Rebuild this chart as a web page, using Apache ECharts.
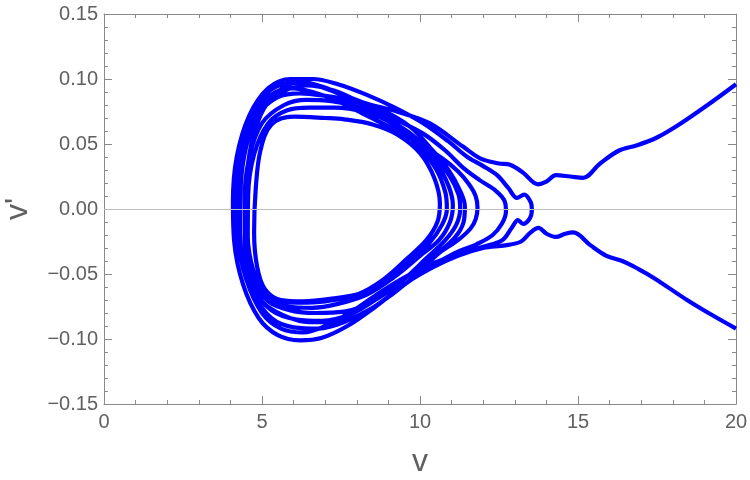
<!DOCTYPE html>
<html>
<head>
<meta charset="utf-8">
<script src="https://cdn.jsdelivr.net/npm/echarts@6/dist/echarts.min.js"></script>
<style>html,body{margin:0;padding:0;background:#fff}#c{width:750px;height:480px}</style>
</head>
<body>
<div id="c"></div>
<script>
// axis ticks
const xTicks = [0, 5, 10, 15, 20];
const yTicks = [-0.15, -0.10, -0.05, 0.00, 0.05, 0.10, 0.15];

// trajectory pieces (v, v')
const tailIn = [[20,-0.092],[19.2,-0.081],[18.45,-0.070],[17.4,-0.053],[16.9,-0.046],[16.4,-0.040],[15.9,-0.036],[15.4,-0.028],[14.85,-0.018],[14.6,-0.019],[14.3,-0.0215],[14.0,-0.019],[13.75,-0.0145],[13.5,-0.018],[13.2,-0.025],[12.7,-0.028],[12.0,-0.030],[11.2,-0.036],[10.4,-0.045],[9.5,-0.058],[8.6,-0.075],[7.7,-0.090],[6.9,-0.099],[6.2,-0.101],[5.5,-0.097],[4.9,-0.084],[4.4,-0.058],[4.12,-0.025],[4.08,0.005],[4.2,0.040],[4.6,0.072],[5.2,0.093],[5.9,0.100],[6.6,0.100],[7.4,0.096],[8.3,0.088],[9.2,0.078],[10.1,0.066],[10.9,0.052],[11.5,0.040],[12.0,0.033],[12.44,0.026],[12.8,0.016],[13.07,0.0085],[13.3,0.011],[13.5,0.0055],[13.54,0],[13.48,-0.007],[13.26,-0.0115],[13.1,-0.0085],[12.9,-0.0146],[12.6,-0.024],[12.0,-0.029],[11.3,-0.034]];
const loop2 = [[10.5,-0.041],[9.7,-0.050],[8.8,-0.063],[7.9,-0.078],[7.0,-0.090],[6.3,-0.095],[5.6,-0.092],[5.0,-0.080],[4.5,-0.054],[4.2,-0.020],[4.14,0.010],[4.3,0.045],[4.7,0.074],[5.3,0.092],[6.0,0.097],[6.7,0.095],[7.5,0.088],[8.4,0.078],[9.3,0.068],[10.1,0.058],[10.8,0.045],[11.4,0.031],[11.9,0.022],[12.4,0.014],[12.68,0.006],[12.72,-0.002],[12.6,-0.011],[12.3,-0.020],[11.8,-0.027]];
const loop3 = [[11.1,-0.034],[10.3,-0.045],[9.4,-0.060],[8.5,-0.076],[7.6,-0.087],[6.8,-0.092],[6.0,-0.091],[5.3,-0.084],[4.7,-0.064],[4.3,-0.034],[4.2,0.0],[4.32,0.038],[4.7,0.068],[5.2,0.086],[5.9,0.093],[6.6,0.090],[7.4,0.083],[8.3,0.072],[9.2,0.061],[10.0,0.050],[10.7,0.039],[11.2,0.029],[11.55,0.019],[11.76,0.010],[11.82,0.001],[11.76,-0.008],[11.6,-0.015],[11.2,-0.024]];
const loop4 = [[10.6,-0.034],[9.9,-0.050],[9.1,-0.066],[8.2,-0.080],[7.3,-0.087],[6.5,-0.087],[5.7,-0.082],[5.0,-0.071],[4.5,-0.049],[4.3,-0.018],[4.32,0.015],[4.5,0.048],[4.9,0.073],[5.5,0.086],[6.2,0.089],[7.0,0.087],[7.9,0.083],[8.8,0.076],[9.7,0.063],[10.4,0.045],[10.9,0.030],[11.25,0.015],[11.42,0.002],[11.38,-0.010],[11.1,-0.022]];
const loop5 = [[10.5,-0.035],[9.6,-0.052],[8.7,-0.068],[7.8,-0.081],[6.9,-0.086],[6.1,-0.085],[5.3,-0.078],[4.7,-0.060],[4.3,-0.030],[4.25,0.003],[4.4,0.040],[4.8,0.070],[5.5,0.088],[6.4,0.095],[7.3,0.091],[8.1,0.082],[8.9,0.070],[9.7,0.058],[10.4,0.042],[10.95,0.025],[11.22,0.011],[11.27,0.0],[11.15,-0.012],[10.8,-0.024]];
const loop6 = [[10.2,-0.038],[9.4,-0.056],[8.5,-0.071],[7.6,-0.079],[6.7,-0.080],[5.9,-0.078],[5.2,-0.071],[4.7,-0.054],[4.45,-0.025],[4.45,0.008],[4.6,0.040],[5.0,0.066],[5.7,0.080],[6.4,0.084],[7.2,0.083],[8.1,0.078],[9.0,0.068],[9.8,0.054],[10.5,0.036],[10.9,0.018],[11.04,0.003],[10.95,-0.010],[10.6,-0.024]];
const loop7 = [[10.0,-0.036],[9.2,-0.052],[8.3,-0.066],[7.4,-0.073],[6.6,-0.076],[5.8,-0.075],[5.2,-0.068],[4.75,-0.050],[4.55,-0.022],[4.56,0.010],[4.75,0.042],[5.2,0.066],[5.8,0.076],[6.5,0.078],[7.3,0.078],[8.2,0.075],[9.1,0.066],[9.9,0.050],[10.5,0.031],[10.8,0.013],[10.85,0.0],[10.7,-0.012],[10.3,-0.026]];
const loop8 = [[9.7,-0.040],[8.9,-0.054],[8.1,-0.065],[7.2,-0.069],[6.3,-0.071],[5.6,-0.070],[5.1,-0.062],[4.85,-0.045],[4.75,-0.018],[4.8,0.015],[4.95,0.045],[5.3,0.065],[6.0,0.071],[7.0,0.070],[7.6,0.069],[8.5,0.065],[9.3,0.057],[10.0,0.043],[10.45,0.024],[10.63,0.004],[10.55,-0.010],[10.2,-0.024]];
const tailOut = [[9.6,-0.038],[8.8,-0.055],[8.0,-0.066],[7.0,-0.071],[6.1,-0.072],[5.3,-0.068],[4.8,-0.052],[4.55,-0.025],[4.5,0.008],[4.6,0.042],[4.95,0.072],[5.5,0.090],[6.2,0.098],[7.15,0.092],[8.2,0.082],[9.27,0.075],[10.3,0.066],[11.36,0.048],[11.9,0.039],[12.5,0.035],[12.85,0.034],[13.26,0.028],[13.73,0.019],[14.0,0.021],[14.3,0.026],[14.75,0.025],[15.16,0.024],[15.7,0.035],[16.3,0.045],[16.87,0.049],[17.5,0.055],[18.2,0.065],[19.1,0.080],[20,0.096]];

const trajectory = [].concat(tailIn, loop2, loop3, loop4, loop5, loop6, loop7, loop8, tailOut);

const gray = '#606060';
const fmtY = v => (v < 0 ? '\u2212' : '') + Math.abs(v).toFixed(2);
const common = {
  axisLine: { show: true, onZero: false, lineStyle: { color: '#8a8a8a', width: 1 } },
  axisTick: { show: true, inside: true, length: 8, lineStyle: { color: '#8a8a8a' } },
  minorTick: { show: true, splitNumber: 5, length: 4, lineStyle: { color: '#8a8a8a' } },
  splitLine: { show: false },
  minorSplitLine: { show: false }
};

const chart = echarts.init(document.getElementById('c'), null, { renderer: 'canvas' });
chart.setOption({
  animation: false,
  backgroundColor: '#fff',
  grid: { left: 104, right: 14, top: 14, bottom: 76, containLabel: false, outerBoundsMode: 'none' },
  xAxis: [
    Object.assign({}, common, {
      type: 'value', min: xTicks[0], max: xTicks[xTicks.length - 1], interval: 5, position: 'bottom',
      axisLabel: { color: gray, fontSize: 20, fontFamily: 'Liberation Sans, Arial', margin: 8 },
      name: 'v', nameLocation: 'middle', nameGap: 42,
      nameTextStyle: { color: gray, fontSize: 32, fontFamily: 'Liberation Sans, Arial' }
    }),
    Object.assign({}, common, {
      type: 'value', min: xTicks[0], max: xTicks[xTicks.length - 1], interval: 5, position: 'top',
      axisLabel: { show: false }
    })
  ],
  yAxis: [
    Object.assign({}, common, {
      type: 'value', min: yTicks[0], max: yTicks[yTicks.length - 1], interval: 0.05, position: 'left',
      axisLabel: { color: gray, fontSize: 20, fontFamily: 'Liberation Sans, Arial', margin: 6, formatter: fmtY },
      name: "v'", nameLocation: 'middle', nameGap: 70, nameRotate: 90,
      nameTextStyle: { color: gray, fontSize: 32, fontFamily: 'Liberation Sans, Arial' }
    }),
    Object.assign({}, common, {
      type: 'value', min: yTicks[0], max: yTicks[yTicks.length - 1], interval: 0.05, position: 'right',
      axisLabel: { show: false }
    })
  ],
  series: [
    {
      type: 'line', data: [], z: 1, silent: true,
      markLine: { silent: true, symbol: 'none', label: { show: false },
        lineStyle: { color: '#bdbdbd', width: 1, type: 'solid' }, data: [{ yAxis: 0 }] }
    },
    {
      type: 'line', data: trajectory, z: 2, smooth: 0.35, showSymbol: false, symbol: 'none',
      lineStyle: { color: '#0000ff', width: 4.2 }
    }
  ]
});
</script>
</body>
</html>
